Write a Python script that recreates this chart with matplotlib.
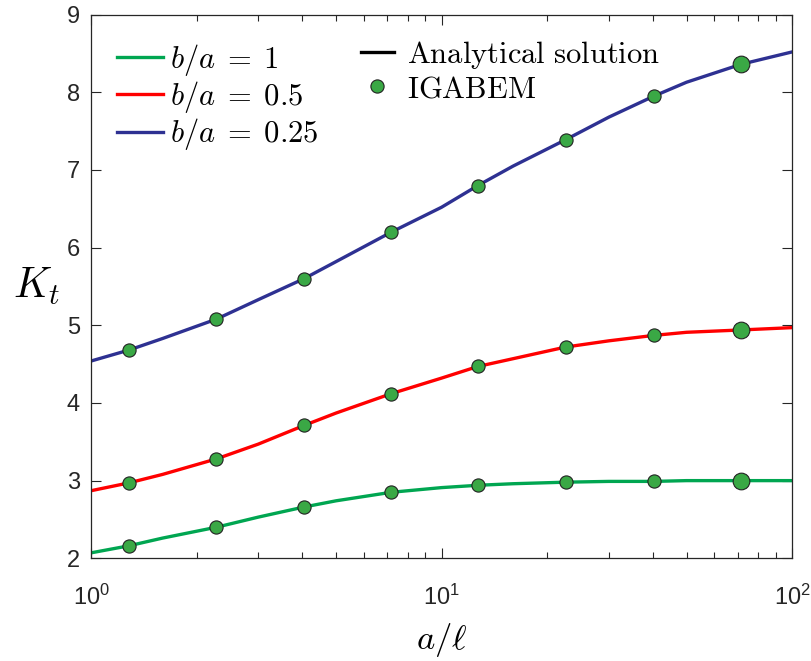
import numpy as np
import matplotlib
matplotlib.use("Agg")
import matplotlib.pyplot as plt
from matplotlib.lines import Line2D
from matplotlib.ticker import FixedLocator, FuncFormatter, LogLocator, NullFormatter

plt.rcParams['font.family'] = ['Liberation Sans', 'DejaVu Sans']
plt.rcParams['mathtext.fontset'] = 'cm'

# --- analytical curves ---
curve_x = [1, 1.28, 1.6, 2.28, 3, 4.05, 5, 7.19, 10, 12.7, 16, 22.6, 30, 40.3, 50, 71.4, 100]
kt_b1 = [2.07, 2.16, 2.26, 2.40, 2.53, 2.66, 2.74, 2.85, 2.91, 2.94, 2.96, 2.98, 2.99, 2.99, 3.0, 3.0, 3.0]
kt_b05 = [2.87, 2.97, 3.08, 3.28, 3.47, 3.71, 3.87, 4.12, 4.32, 4.47, 4.57, 4.72, 4.80, 4.87, 4.91, 4.94, 4.97]
kt_b025 = [4.54, 4.68, 4.83, 5.08, 5.33, 5.60, 5.82, 6.20, 6.52, 6.80, 7.05, 7.39, 7.68, 7.95, 8.13, 8.36, 8.52]

# --- IGABEM points ---
iga_x = [1.28, 2.28, 4.05, 7.19, 12.7, 22.6, 40.3, 71.4]
iga_b1 = [2.16, 2.40, 2.66, 2.85, 2.94, 2.98, 2.99, 3.0]
iga_b05 = [2.97, 3.28, 3.71, 4.12, 4.47, 4.72, 4.87, 4.94]
iga_b025 = [4.68, 5.08, 5.60, 6.20, 6.80, 7.39, 7.95, 8.36]

labels = [r'$b/a\;=\;1$', r'$b/a\;=\;0.5$', r'$b/a\;=\;0.25$']
colors = ['#00a651', '#ff0000', '#2e3192']
y_ticks = [2, 3, 4, 5, 6, 7, 8, 9]

fig = plt.figure(figsize=(8.12, 6.61), dpi=100)
ax = fig.add_axes([0.1121, 0.1554, 0.8633, 0.8224])

handles = []
for ys, c, lab in zip([kt_b1, kt_b05, kt_b025], colors, labels):
    h, = ax.plot(curve_x, ys, color=c, lw=2.4, label=lab, zorder=2)
    handles.append(h)

mface = '#3aa845'
medge = '#222222'
for ys in [iga_b1, iga_b05, iga_b025]:
    ax.plot(iga_x[:-1], ys[:-1], ls='none', marker='o', ms=9.5, mfc=mface, mec=medge,
            mew=0.8, zorder=3)
    ax.plot(iga_x[-1:], ys[-1:], ls='none', marker='o', ms=12, mfc=mface, mec=medge,
            mew=0.8, zorder=3)

ax.set_xscale('log')
ax.set_xlim(1, 100)
ax.set_ylim(2, 9)
ax.yaxis.set_major_locator(FixedLocator(y_ticks))
ax.xaxis.set_major_locator(LogLocator(base=10))
ax.xaxis.set_minor_locator(LogLocator(base=10, subs=np.arange(2, 10)))
ax.xaxis.set_minor_formatter(NullFormatter())
ax.xaxis.set_major_formatter(FuncFormatter(lambda v, p: r'$\mathdefault{10^{%d}}$' % round(np.log10(v))))

ax.tick_params(which='both', direction='in', top=True, right=True, colors='#262626',
               labelsize=17, width=0.8)
ax.tick_params(which='major', length=7, pad=8)
ax.tick_params(axis='x', which='major', pad=19)
ax.tick_params(which='minor', length=4)
for s in ax.spines.values():
    s.set_color('#262626')
    s.set_linewidth(0.9)

ax.set_xlabel(r'$a/\ell$', fontsize=25, labelpad=8)
ax.set_ylabel(r'$K_t$', fontsize=30, rotation=0, va='center', ha='center')
ax.yaxis.set_label_coords(-0.078, 0.5)

# two legends: curves on the left, method key on the right
leg1 = ax.legend(handles=handles, loc='upper left', bbox_to_anchor=(0.037, 0.95),
                 frameon=False, fontsize=22, handlelength=1.5, handletextpad=0.25,
                 labelspacing=0.04, borderpad=0, borderaxespad=0)
ax.add_artist(leg1)
key = [Line2D([], [], color='black', lw=2.4),
       Line2D([], [], ls='none', marker='o', ms=9.5, mfc=mface, mec=medge, mew=0.8)]
ax.legend(key, [r'$\mathrm{Analytical\ solution}$', r'$\mathrm{IGABEM}$'],
          loc='upper left', bbox_to_anchor=(0.385, 0.955), frameon=False, fontsize=22,
          handlelength=1.08, handletextpad=0.43, labelspacing=0.1, borderpad=0,
          borderaxespad=0)

fig.savefig('out.png', dpi=100)
